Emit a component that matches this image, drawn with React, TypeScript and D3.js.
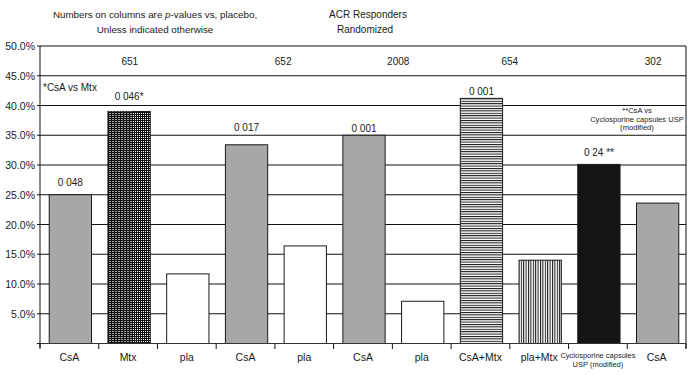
import React from "react";
import * as d3 from "d3";

const categories = ["CsA", "Mtx", "pla", "CsA", "pla", "CsA", "pla", "CsA+Mtx", "pla+Mtx", "Cyclosporine capsules USP (modified)", "CsA"];
const values = [25.0, 39.0, 11.7, 33.4, 16.4, 35.0, 7.1, 41.2, 14.0, 30.1, 23.6];
const pValues = ["0 048", "0 046*", "", "0 017", "", "0 001", "", "0 001", "", "0 24 **", ""];
const pLabelLevel = [26.4, 40.9, 0, 35.7, 0, 35.5, 0, 41.7, 0, 31.5, 0];
const studies = ["651", "652", "2008", "654", "302"];
const studyPos = [1.53, 4.14, 6.1, 8.0, 10.44];
const yTicks = [5, 10, 15, 20, 25, 30, 35, 40, 45, 50];

const W = 695, H = 375;
const LEFT = 40, RIGHT = 686, Y0 = 343.5, Y50 = 46;
const FONT = "'Liberation Sans Narrow', 'Liberation Sans', Arial, sans-serif";

const styleOf: Record<string, string> = {
  "CsA": "#a6a7a9",
  "Mtx": "url(#mtxR)",
  "pla": "#ffffff",
  "CsA+Mtx": "url(#hstripe)",
  "pla+Mtx": "url(#vstripe)",
  "Cyclosporine capsules USP (modified)": "#141414",
};

export default function App() {
  const idx = categories.map((_, i) => String(i));
  const x = d3.scaleBand<string>().domain(idx).range([LEFT, RIGHT]).padding(0);
  const xc = d3.scaleLinear().domain([0, categories.length]).range([LEFT, RIGHT]);
  const y = d3.scaleLinear().domain([0, 50]).range([Y0, Y50]);
  const bw = x.bandwidth() * 0.72;
  const fmt = d3.format(".1f");

  return (
    <svg width={W} height={H} style={{ position: "absolute", left: 0, top: 0, background: "#fff" }} fontFamily={FONT}>
      <defs>
        <pattern id="mtxR" patternUnits="userSpaceOnUse" width="2" height="2">
          <rect width="2" height="2" fill="#fff" />
          <rect x="0" y="0" width="2" height="1" fill="#111" />
          <rect x="0" y="0" width="1" height="2" fill="#111" />
        </pattern>
        <pattern id="mtxL" patternUnits="userSpaceOnUse" width="3" height="2">
          <rect width="3" height="2" fill="#fff" />
          <rect x="0" y="0" width="3" height="1.4" fill="#111" />
          <rect x="0" y="0" width="1" height="2" fill="#111" />
        </pattern>
        <pattern id="hstripe" patternUnits="userSpaceOnUse" width="4" height="2.4">
          <rect width="4" height="2.4" fill="#fff" />
          <rect x="0" y="0" width="4" height="1" fill="#111" />
        </pattern>
        <pattern id="vstripe" patternUnits="userSpaceOnUse" width="2.4" height="4">
          <rect width="2.4" height="4" fill="#fff" />
          <rect x="0" y="0" width="1" height="4" fill="#111" />
        </pattern>
      </defs>

      {/* titles */}
      <text x={155} y={18} fontSize={9.8} textAnchor="middle" fill="#1a1a1a">
        Numbers on columns are <tspan fontStyle="italic">p</tspan>-values vs, placebo,
      </text>
      <text x={155} y={33} fontSize={9.8} textAnchor="middle" fill="#1a1a1a">Unless indicated otherwise</text>
      <text x={368} y={18} fontSize={10} textAnchor="middle" fill="#1a1a1a">ACR Responders</text>
      <text x={365} y={33} fontSize={10} textAnchor="middle" fill="#1a1a1a">Randomized</text>

      {/* gridlines */}
      {yTicks.map((t) => (
        <line key={"g" + t} x1={LEFT} x2={RIGHT} y1={y(t)} y2={y(t)} stroke="#111" strokeWidth={1} />
      ))}
      {/* y axis labels & ticks */}
      {[0, ...yTicks].map((t) => (
        <g key={"yt" + t}>
          <line x1={LEFT - 3} x2={LEFT} y1={y(t)} y2={y(t)} stroke="#111" />
          {t > 0 && (
            <text x={35} y={y(t) + 4} fontSize={10.5} textAnchor="end" fill="#1a1a1a">{fmt(t)}%</text>
          )}
        </g>
      ))}

      {/* study numbers */}
      {studies.map((s, i) => (
        <text key={"s" + i} x={xc(studyPos[i])} y={65} fontSize={10} textAnchor="middle" fill="#1a1a1a">{s}</text>
      ))}
      <text x={43} y={91} fontSize={10} fill="#1a1a1a">*CsA vs Mtx</text>
      <g fontSize={7.6} textAnchor="middle" fill="#1a1a1a">
        <text x={637} y={113}>**CsA vs</text>
        <text x={637} y={121.5}>Cyclosporine capsules USP</text>
        <text x={637} y={130}>(modified)</text>
      </g>

      {/* bars */}
      {values.map((v, i) => {
        const cx = (x(String(i)) as number) + x.bandwidth() / 2 + 1;
        const x0 = cx - bw / 2;
        const top = y(v);
        const h = y(0) - top;
        const cat = categories[i];
        return (
          <g key={"b" + i}>
            <rect x={x0} y={top} width={bw} height={h} fill={styleOf[cat]} stroke="#1a1a1a" strokeWidth={1} />
            {cat === "Mtx" && (
              <rect x={x0} y={top} width={bw * 0.58} height={h} fill="url(#mtxL)" />
            )}
            {pValues[i] && (
              <text x={cx} y={y(pLabelLevel[i])} fontSize={10} textAnchor="middle" fill="#1a1a1a">{pValues[i]}</text>
            )}
          </g>
        );
      })}

      {/* plot frame */}
      <line x1={LEFT} x2={LEFT} y1={Y50} y2={Y0 + 4} stroke="#111" />
      <line x1={RIGHT} x2={RIGHT} y1={Y50} y2={Y0 + 5} stroke="#111" />
      <line x1={LEFT} x2={RIGHT} y1={Y0} y2={Y0} stroke="#333" />
      {d3.range(categories.length + 1).map((k) => (
        <line key={"bt" + k} x1={xc(k)} x2={xc(k)} y1={Y0} y2={Y0 + 5.5} stroke="#111" />
      ))}

      {/* x labels */}
      {categories.map((c, i) => {
        const cx = (x(String(i)) as number) + x.bandwidth() / 2;
        if (c.startsWith("Cyclosporine")) {
          return (
            <g key={"xl" + i} fontSize={7.5} textAnchor="middle" fill="#1a1a1a">
              <text x={cx} y={358}>Cyclosporine capsules</text>
              <text x={cx} y={367}>USP (modified)</text>
            </g>
          );
        }
        return (
          <text key={"xl" + i} x={cx} y={361} fontSize={10.5} textAnchor="middle" fill="#1a1a1a">{c}</text>
        );
      })}
    </svg>
  );
}
